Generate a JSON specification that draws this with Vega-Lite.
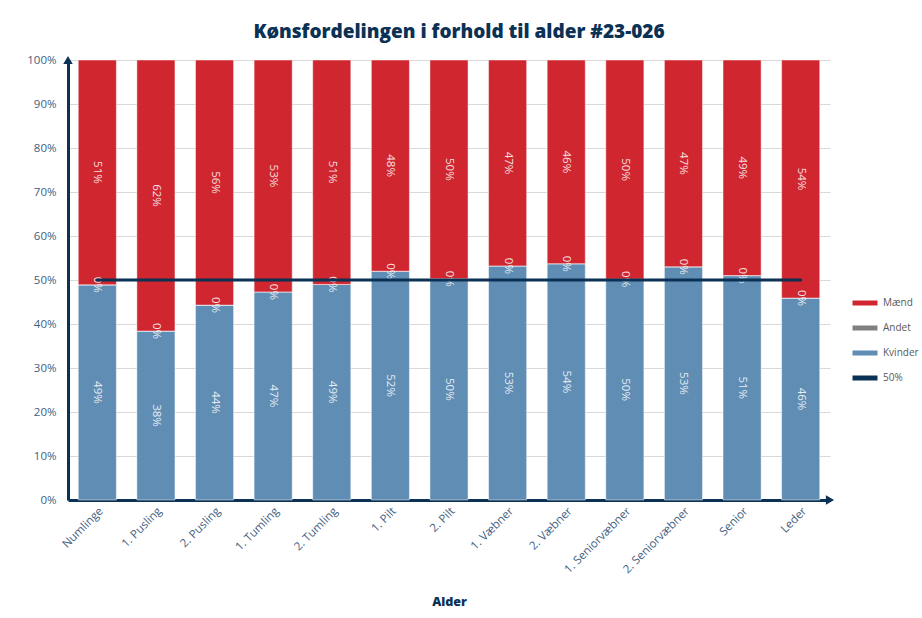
{
  "$schema": "https://vega.github.io/schema/vega-lite/v6.json",
  "width": 762,
  "height": 440,
  "autosize": {"type": "none"},
  "padding": {"left": 68, "top": 60, "right": 92, "bottom": 118},
  "background": "white",
  "title": {"text": "Kønsfordelingen i forhold til alder #23-026", "font": "Open Sans", "fontSize": 19, "fontWeight": 800, "color": "#0B3155", "offset": 12, "dx": 10},
  "config": {
    "view": {"stroke": null},
    "font": "Open Sans",
    "axis": {"labelFont": "Open Sans", "labelColor": "#44607F", "labelFontSize": 11.5, "domainColor": "#0B3155", "domainWidth": 3, "ticks": false}
  },
  "datasets": {
    "kon": [
      {"Alder": "Numlinge", "Køn": "Kvinder", "Andel": 0.489},
      {"Alder": "Numlinge", "Køn": "Andet", "Andel": 0},
      {"Alder": "Numlinge", "Køn": "Mænd", "Andel": 0.511},
      {"Alder": "1. Pusling", "Køn": "Kvinder", "Andel": 0.384},
      {"Alder": "1. Pusling", "Køn": "Andet", "Andel": 0},
      {"Alder": "1. Pusling", "Køn": "Mænd", "Andel": 0.616},
      {"Alder": "2. Pusling", "Køn": "Kvinder", "Andel": 0.443},
      {"Alder": "2. Pusling", "Køn": "Andet", "Andel": 0},
      {"Alder": "2. Pusling", "Køn": "Mænd", "Andel": 0.557},
      {"Alder": "1. Tumling", "Køn": "Kvinder", "Andel": 0.473},
      {"Alder": "1. Tumling", "Køn": "Andet", "Andel": 0},
      {"Alder": "1. Tumling", "Køn": "Mænd", "Andel": 0.527},
      {"Alder": "2. Tumling", "Køn": "Kvinder", "Andel": 0.49},
      {"Alder": "2. Tumling", "Køn": "Andet", "Andel": 0},
      {"Alder": "2. Tumling", "Køn": "Mænd", "Andel": 0.51},
      {"Alder": "1. Pilt", "Køn": "Kvinder", "Andel": 0.52},
      {"Alder": "1. Pilt", "Køn": "Andet", "Andel": 0},
      {"Alder": "1. Pilt", "Køn": "Mænd", "Andel": 0.48},
      {"Alder": "2. Pilt", "Køn": "Kvinder", "Andel": 0.503},
      {"Alder": "2. Pilt", "Køn": "Andet", "Andel": 0},
      {"Alder": "2. Pilt", "Køn": "Mænd", "Andel": 0.497},
      {"Alder": "1. Væbner", "Køn": "Kvinder", "Andel": 0.532},
      {"Alder": "1. Væbner", "Køn": "Andet", "Andel": 0},
      {"Alder": "1. Væbner", "Køn": "Mænd", "Andel": 0.468},
      {"Alder": "2. Væbner", "Køn": "Kvinder", "Andel": 0.537},
      {"Alder": "2. Væbner", "Køn": "Andet", "Andel": 0},
      {"Alder": "2. Væbner", "Køn": "Mænd", "Andel": 0.463},
      {"Alder": "1. Seniorvæbner", "Køn": "Kvinder", "Andel": 0.502},
      {"Alder": "1. Seniorvæbner", "Køn": "Andet", "Andel": 0},
      {"Alder": "1. Seniorvæbner", "Køn": "Mænd", "Andel": 0.498},
      {"Alder": "2. Seniorvæbner", "Køn": "Kvinder", "Andel": 0.53},
      {"Alder": "2. Seniorvæbner", "Køn": "Andet", "Andel": 0},
      {"Alder": "2. Seniorvæbner", "Køn": "Mænd", "Andel": 0.47},
      {"Alder": "Senior", "Køn": "Kvinder", "Andel": 0.51},
      {"Alder": "Senior", "Køn": "Andet", "Andel": 0},
      {"Alder": "Senior", "Køn": "Mænd", "Andel": 0.49},
      {"Alder": "Leder", "Køn": "Kvinder", "Andel": 0.459},
      {"Alder": "Leder", "Køn": "Andet", "Andel": 0},
      {"Alder": "Leder", "Køn": "Mænd", "Andel": 0.541}
    ],
    "linje": [
      {"Alder": "Numlinge", "Serie": "50%", "Andel": 0.5},
      {"Alder": "1. Pusling", "Serie": "50%", "Andel": 0.5},
      {"Alder": "2. Pusling", "Serie": "50%", "Andel": 0.5},
      {"Alder": "1. Tumling", "Serie": "50%", "Andel": 0.5},
      {"Alder": "2. Tumling", "Serie": "50%", "Andel": 0.5},
      {"Alder": "1. Pilt", "Serie": "50%", "Andel": 0.5},
      {"Alder": "2. Pilt", "Serie": "50%", "Andel": 0.5},
      {"Alder": "1. Væbner", "Serie": "50%", "Andel": 0.5},
      {"Alder": "2. Væbner", "Serie": "50%", "Andel": 0.5},
      {"Alder": "1. Seniorvæbner", "Serie": "50%", "Andel": 0.5},
      {"Alder": "2. Seniorvæbner", "Serie": "50%", "Andel": 0.5},
      {"Alder": "Senior", "Serie": "50%", "Andel": 0.5},
      {"Alder": "Leder", "Serie": "50%", "Andel": 0.5}
    ],
    "pile": [
      {"Akse": "y", "px": 0, "py": 1},
      {"Akse": "x", "px": 1, "py": 0}
    ]
  },
  "resolve": {"scale": {"x": "independent"}},
  "layer": [
    {
      "layer": [
        {
          "data": {"name": "kon"},
          "transform": [{"calculate": "indexof(['Kvinder','Andet','Mænd'], datum['Køn'])", "as": "rang"}],
          "mark": {"type": "bar", "stroke": "#ffffff", "strokeWidth": 0.8, "strokeOpacity": 0.6},
          "encoding": {
            "x": {"field": "Alder", "type": "nominal", "sort": null, "scale": {"paddingInner": 0.35, "paddingOuter": 0.175},
              "axis": {"title": "Alder", "titleFont": "Open Sans", "titleFontSize": 12.5, "titleFontWeight": 800, "titleColor": "#0B3155", "labelAngle": -45, "labelPadding": 5, "titlePadding": 20}},
            "y": {"field": "Andel", "type": "quantitative", "stack": "zero", "scale": {"domain": [0, 1]},
              "axis": {"title": null, "format": ".0%", "values": [0, 0.1, 0.2, 0.3, 0.4, 0.5, 0.6, 0.7, 0.8, 0.9, 1], "grid": true, "gridColor": "#D9D9D9", "gridWidth": 1, "labelPadding": 12}},
            "color": {"field": "Køn", "type": "nominal",
              "scale": {"domain": ["Mænd", "Andet", "Kvinder", "50%"], "range": ["#D0262F", "#808080", "#5F8DB4", "#0B3155"]},
              "legend": {"title": null, "orient": "none", "legendX": 782, "legendY": 228, "symbolType": "stroke", "symbolStrokeWidth": 5, "symbolSize": 625, "labelFontSize": 10, "labelColor": "#595959", "rowPadding": -3, "labelOffset": 3}},
            "order": {"field": "rang", "type": "quantitative"}
          }
        },
        {
          "data": {"name": "kon"},
          "transform": [{"calculate": "indexof(['Kvinder','Andet','Mænd'], datum['Køn'])", "as": "rang"}],
          "mark": {"type": "text", "angle": 90, "align": "center", "baseline": "middle", "fill": "#ffffff", "opacity": 0.85, "fontSize": 11.5},
          "encoding": {
            "x": {"field": "Alder", "type": "nominal", "sort": null},
            "y": {"field": "Andel", "type": "quantitative", "stack": "zero", "bandPosition": 0.5},
            "detail": {"field": "Køn"},
            "text": {"field": "Andel", "type": "quantitative", "format": ".0%"},
            "order": {"field": "rang", "type": "quantitative"}
          }
        },
        {
          "data": {"name": "linje"},
          "mark": {"type": "line", "strokeWidth": 3, "strokeCap": "round"},
          "encoding": {
            "x": {"field": "Alder", "type": "nominal", "sort": null},
            "y": {"field": "Andel", "type": "quantitative"},
            "color": {"field": "Serie", "type": "nominal"}
          }
        }
      ]
    },
    {
      "data": {"name": "pile"},
      "mark": {"type": "point", "filled": true, "opacity": 1, "color": "#0B3155", "size": 90},
      "encoding": {
        "x": {"field": "px", "type": "quantitative", "scale": {"domain": [0, 1], "nice": false, "zero": false}, "axis": null},
        "y": {"field": "py", "type": "quantitative"},
        "shape": {"field": "Akse", "type": "nominal", "scale": {"domain": ["y", "x"], "range": ["triangle-up", "triangle-right"]}, "legend": null}
      }
    }
  ]
}
